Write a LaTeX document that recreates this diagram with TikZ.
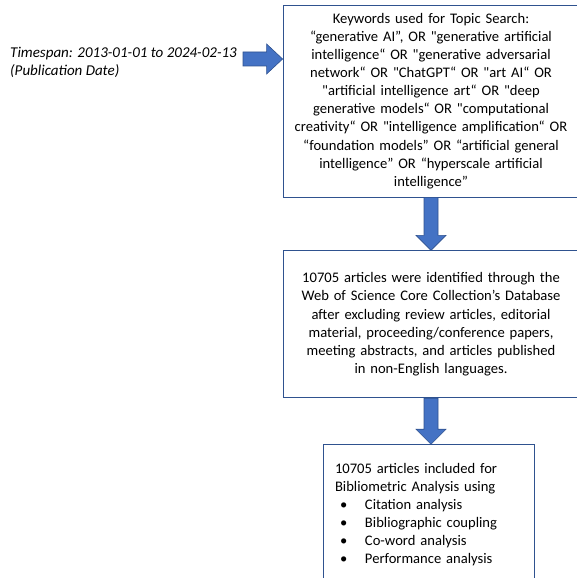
\documentclass[tikz,border=0pt]{standalone}
\usepackage{fontspec}
\setmainfont{Carlito}[Ligatures=TeXOff]
\usetikzlibrary{positioning,calc}
\definecolor{okraj}{HTML}{2F528F}
\definecolor{vypln}{HTML}{4472C4}
\tikzset{
  ramec/.style={draw=okraj,line width=0.8pt,inner sep=0pt,align=center,font=\fontsize{14.6}{18.1}\selectfont},
  sipka/.style={fill=vypln,draw=okraj,line width=0.6pt,line join=miter},
  popis/.style={inner sep=0pt,align=left,font=\fontsize{15}{18.1}\selectfont\itshape},
}
% block arrows between nodes
\newcommand{\sipkadolu}[2]{%
  \path[sipka] let \p1=(#1.south), \p2=(#2.north) in
    (\x1-7pt,\y1) -- (\x1+7pt,\y1) -- (\x1+7pt,\y2+15pt) -- (\x1+15pt,\y2+15pt)
    -- (\x1,\y2) -- (\x1-15pt,\y2+15pt) -- (\x1-7pt,\y2+15pt) -- cycle;}
\newcommand{\sipkavpravo}[2]{%
  \path[sipka] let \p1=(#1.east), \p2=(#2.west) in
    (\x1+6pt,\y1+10pt) -- (\x2-16pt,\y1+10pt) -- (\x2-16pt,\y1+18pt) -- (\x2,\y1+3pt)
    -- (\x2-16pt,\y1-12pt) -- (\x2-16pt,\y1-4pt) -- (\x1+6pt,\y1-4pt) -- cycle;}
\begin{document}
\begin{tikzpicture}[x=1pt,y=-1pt]
  \useasboundingbox (0,0) rectangle (577,578);
  \node[ramec,text width=296pt,minimum height=192pt] (kw) at (431,101)
    {Keywords used for Topic Search:\\
     “generative AI”, OR "generative artificial\\
     intelligence“ OR "generative adversarial\\
     network“ OR "ChatGPT“ OR "art AI“ OR\\
     "artificial intelligence art“ OR "deep\\
     generative models“ OR "computational\\
     creativity“ OR "intelligence amplification“ OR\\
     “foundation models” OR “artificial general\\
     intelligence” OR “hyperscale artificial\\
     intelligence”};
  \node[ramec,text width=296pt,minimum height=147pt,below=53pt of kw] (wos)
    {10705 articles were identified through the\\
     Web of Science Core Collection’s Database\\
     after excluding review articles, editorial\\
     material, proceeding/conference papers,\\
     meeting abstracts, and articles published\\
     in non-English languages.};
  \node[ramec,align=left,inner xsep=12pt,text width=187pt,minimum height=140pt,
    below=46pt of wos,xshift=-2.5pt] (an)
    {10705 articles included for\\
     Bibliometric Analysis using\\
     \hspace*{5pt}\makebox[25pt][l]{•}Citation analysis\\
     \hspace*{5pt}\makebox[25pt][l]{•}Bibliographic coupling\\
     \hspace*{5pt}\makebox[25pt][l]{•}Co-word analysis\\
     \hspace*{5pt}\makebox[25pt][l]{•}Performance analysis};
  \node[popis,anchor=west] (ts) at (10,62)
    {Timespan: 2013-01-01 to 2024-02-13\\(Publication Date)};
  \sipkavpravo{ts}{kw}
  \sipkadolu{kw}{wos}
  \sipkadolu{wos}{an}
\end{tikzpicture}
\end{document}
